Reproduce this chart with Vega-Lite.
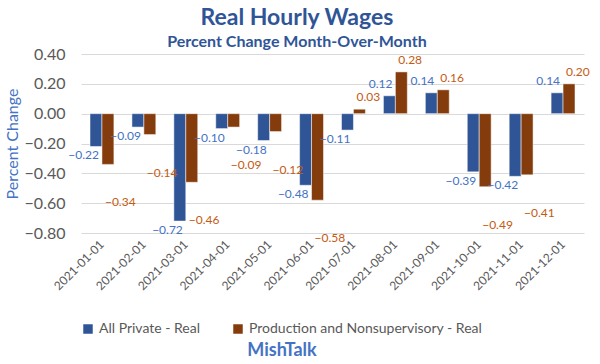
{
  "$schema": "https://vega.github.io/schema/vega-lite/v6.json",
  "width": 600,
  "height": 364,
  "autosize": {"type": "fit", "contains": "padding"},
  "padding": {"left": 4, "right": 13, "top": 7, "bottom": 4},
  "background": "white",
  "config": {"font": "Lato", "view": {"stroke": null}},
  "title": {
    "text": "Real Hourly Wages",
    "subtitle": "Percent Change Month-Over-Month",
    "fontSize": 23,
    "fontWeight": "bold",
    "color": "#2F5597",
    "subtitleFontSize": 16,
    "subtitleFontWeight": "bold",
    "subtitleColor": "#2F5597",
    "subtitlePadding": 4,
    "anchor": "middle",
    "frame": "bounds",
    "offset": -4
  },
  "data": {
    "values": [
      {"month": "2021-01-01", "series": "All Private - Real", "value": -0.22},
      {"month": "2021-01-01", "series": "Production and Nonsupervisory - Real", "value": -0.34},
      {"month": "2021-02-01", "series": "All Private - Real", "value": -0.09},
      {"month": "2021-02-01", "series": "Production and Nonsupervisory - Real", "value": -0.14},
      {"month": "2021-03-01", "series": "All Private - Real", "value": -0.72},
      {"month": "2021-03-01", "series": "Production and Nonsupervisory - Real", "value": -0.46},
      {"month": "2021-04-01", "series": "All Private - Real", "value": -0.10},
      {"month": "2021-04-01", "series": "Production and Nonsupervisory - Real", "value": -0.09},
      {"month": "2021-05-01", "series": "All Private - Real", "value": -0.18},
      {"month": "2021-05-01", "series": "Production and Nonsupervisory - Real", "value": -0.12},
      {"month": "2021-06-01", "series": "All Private - Real", "value": -0.48},
      {"month": "2021-06-01", "series": "Production and Nonsupervisory - Real", "value": -0.58},
      {"month": "2021-07-01", "series": "All Private - Real", "value": -0.11},
      {"month": "2021-07-01", "series": "Production and Nonsupervisory - Real", "value": 0.03},
      {"month": "2021-08-01", "series": "All Private - Real", "value": 0.12},
      {"month": "2021-08-01", "series": "Production and Nonsupervisory - Real", "value": 0.28},
      {"month": "2021-09-01", "series": "All Private - Real", "value": 0.14},
      {"month": "2021-09-01", "series": "Production and Nonsupervisory - Real", "value": 0.16},
      {"month": "2021-10-01", "series": "All Private - Real", "value": -0.39},
      {"month": "2021-10-01", "series": "Production and Nonsupervisory - Real", "value": -0.49},
      {"month": "2021-11-01", "series": "All Private - Real", "value": -0.42},
      {"month": "2021-11-01", "series": "Production and Nonsupervisory - Real", "value": -0.41},
      {"month": "2021-12-01", "series": "All Private - Real", "value": 0.14},
      {"month": "2021-12-01", "series": "Production and Nonsupervisory - Real", "value": 0.20}
    ]
  },
  "encoding": {
    "x": {
      "field": "month",
      "type": "nominal",
      "scale": {"paddingInner": 0.43, "paddingOuter": 0.215},
      "axis": {
        "title": null,
        "labelAngle": -45,
        "labelAlign": "right",
        "labelBaseline": "middle",
        "labelFontSize": 12,
        "labelColor": "#595959",
        "labelPadding": 9,
        "ticks": false,
        "domain": false,
        "grid": false
      }
    },
    "xOffset": {"field": "series", "type": "nominal", "scale": {"paddingInner": 0}},
    "y": {
      "field": "value",
      "type": "quantitative",
      "scale": {"domain": [-0.8, 0.4], "nice": false},
      "axis": {
        "title": "Percent Change",
        "titleColor": "#4472C4",
        "titleFontSize": 16,
        "titleFontWeight": "normal",
        "titlePadding": 4,
        "values": [-0.8, -0.6, -0.4, -0.2, 0, 0.2, 0.4],
        "format": ".2f",
        "labelFontSize": 16,
        "labelColor": "#595959",
        "labelPadding": 16,
        "ticks": false,
        "domain": false,
        "gridColor": "#D9D9D9",
        "gridWidth": 1
      }
    }
  },
  "layer": [
    {
      "mark": {"type": "bar", "stroke": "#ffffff", "strokeWidth": 0.5},
      "encoding": {
        "color": {
          "field": "series",
          "type": "nominal",
          "scale": {
            "domain": ["All Private - Real", "Production and Nonsupervisory - Real"],
            "range": ["#2F5597", "#843C0C"]
          },
          "legend": {
            "title": "MishTalk",
            "orient": "bottom",
            "direction": "horizontal",
            "titleOrient": "bottom",
            "titleAnchor": "middle",
            "titleFontSize": 18,
            "titleFontWeight": "bold",
            "titleColor": "#4472C4",
            "titlePadding": 6,
            "symbolType": "square",
            "symbolSize": 90,
            "symbolStrokeWidth": 0,
            "labelFontSize": 14,
            "labelLimit": 400,
            "labelColor": "#595959",
            "columnPadding": 30,
            "offset": 30
          }
        }
      }
    },
    {
      "transform": [{"filter": "datum.value < 0 && datum.series == 'All Private - Real'"}],
      "mark": {"type": "text", "baseline": "top", "align": "right", "dx": 3, "dy": 4, "fontSize": 12, "color": "#4472C4"},
      "encoding": {
        "text": {"field": "value", "type": "quantitative", "format": ".2f"}
      }
    },
    {
      "transform": [{"filter": "datum.value < 0 && datum.series != 'All Private - Real'"}],
      "mark": {"type": "text", "baseline": "top", "align": "left", "dx": -3, "dy": 33, "fontSize": 12, "color": "#C55A11"},
      "encoding": {
        "text": {"field": "value", "type": "quantitative", "format": ".2f"}
      }
    },
    {
      "transform": [{"filter": "datum.value >= 0 && datum.series == 'All Private - Real'"}],
      "mark": {"type": "text", "baseline": "bottom", "align": "right", "dx": 3, "dy": -5, "fontSize": 12, "color": "#4472C4"},
      "encoding": {
        "text": {"field": "value", "type": "quantitative", "format": ".2f"}
      }
    },
    {
      "transform": [{"filter": "datum.value >= 0 && datum.series != 'All Private - Real'"}],
      "mark": {"type": "text", "baseline": "bottom", "align": "left", "dx": -3, "dy": -5, "fontSize": 12, "color": "#C55A11"},
      "encoding": {
        "text": {"field": "value", "type": "quantitative", "format": ".2f"}
      }
    }
  ]
}
